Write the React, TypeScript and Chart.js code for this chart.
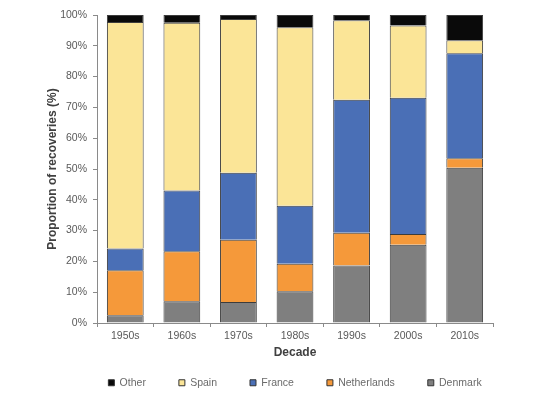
import React, { useEffect, useRef } from "react";
import { Chart, registerables } from "chart.js";

Chart.register(...registerables);

const decades = ["1950s", "1960s", "1970s", "1980s", "1990s", "2000s", "2010s"];
const denmark = [2.5, 7.1, 6.8, 10.3, 18.7, 25.4, 50.4];
const netherlands = [14.6, 16.2, 20.2, 8.9, 10.6, 3.5, 3.1];
const france = [7.1, 19.7, 21.8, 18.9, 43.2, 44.2, 34.1];
const spain = [73.5, 54.5, 49.9, 57.9, 25.8, 23.5, 4.2];
const other = [2.3, 2.5, 1.3, 4.0, 1.7, 3.4, 8.2];

const seriesNames = ["Denmark", "Netherlands", "France", "Spain", "Other"];
const seriesColors = ["#7f7f7f", "#f5993a", "#4a6fb6", "#fbe597", "#0a0a0a"];
const yTicks = [0, 10, 20, 30, 40, 50, 60, 70, 80, 90, 100];

const FONT = "'Liberation Sans', Arial, sans-serif";

export default function App() {
  const ref = useRef<HTMLCanvasElement | null>(null);

  useEffect(() => {
    if (!ref.current) return;
    const values = [denmark, netherlands, france, spain, other];
    const chart = new Chart(ref.current, {
      type: "bar",
      data: {
        labels: decades,
        datasets: values.map((v, i) => ({
          label: seriesNames[i],
          data: v,
          backgroundColor: seriesColors[i],
          borderColor: "#3c3c3c",
          borderWidth: 1,
          barPercentage: 0.65,
          categoryPercentage: 1,
        })),
      },
      options: {
        responsive: false,
        animation: false,
        devicePixelRatio: 1,
        layout: { padding: { left: 49, right: 0, top: 15, bottom: 0 } },
        plugins: {
          tooltip: { enabled: false },
          legend: {
            position: "bottom",
            reverse: true,
            labels: {
              boxWidth: 6,
              boxHeight: 6,
              padding: 33,
              color: "#6a6a6a",
              font: { family: FONT, size: 10.5 },
              generateLabels: (c: any) =>
                c.data.datasets.map((d: any, i: number) => ({
                  text: d.label,
                  fillStyle: d.backgroundColor,
                  strokeStyle: "#333333",
                  lineWidth: 1,
                  hidden: false,
                  datasetIndex: i,
                  fontColor: "#6a6a6a",
                })),
            },
          },
        },
        scales: {
          x: {
            stacked: true,
            afterFit: (s: any) => {
              s.height = 21.5;
            },
            grid: {
              display: true,
              drawOnChartArea: false,
              drawTicks: true,
              tickLength: 4,
              color: "#8a8a8a",
            },
            border: { display: true, color: "#8a8a8a", width: 1 },
            ticks: {
              color: "#595959",
              padding: 3,
              font: { family: FONT, size: 10.5 },
            },
            title: {
              display: true,
              text: "Decade",
              color: "#404040",
              font: { family: FONT, size: 12, weight: "bold" },
              padding: { top: 0, bottom: -15 },
            },
          },
          y: {
            stacked: true,
            min: 0,
            max: 100,
            afterFit: (s: any) => {
              s.width = 48;
            },
            afterBuildTicks: (s: any) => {
              s.ticks = yTicks.map((v) => ({ value: v }));
            },
            grid: {
              display: true,
              drawOnChartArea: false,
              drawTicks: true,
              tickLength: 4,
              color: "#8a8a8a",
            },
            border: { display: true, color: "#8a8a8a", width: 1 },
            ticks: {
              color: "#595959",
              padding: 6,
              font: { family: FONT, size: 10.5 },
              callback: (v: any) => v + "%",
            },
            title: {
              display: true,
              text: "Proportion of recoveries (%)",
              color: "#404040",
              font: { family: FONT, size: 12, weight: "bold" },
              padding: { top: -4, bottom: 0 },
            },
          },
          y2: {
            position: "right",
            display: true,
            afterFit: (s: any) => {
              s.width = 48;
            },
            grid: { display: false },
            border: { display: false },
            ticks: { display: false },
          },
        },
      },
    } as any);
    return () => chart.destroy();
  }, []);

  return (
    <div style={{ position: "absolute", left: 0, top: 0, width: 541, height: 398, background: "#fff" }}>
      <canvas ref={ref} width={541} height={398} style={{ display: "block" }} />
    </div>
  );
}
